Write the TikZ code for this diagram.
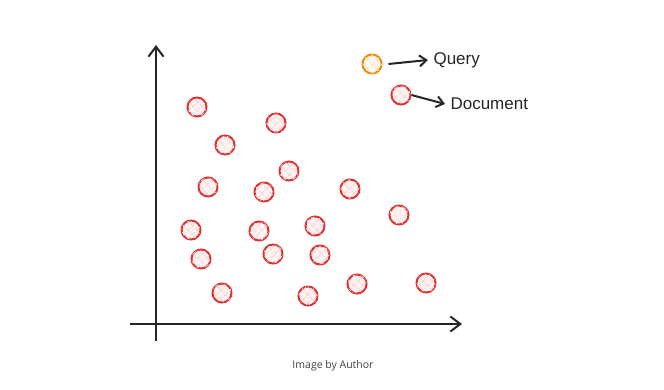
\documentclass[tikz,border=0pt]{standalone}
\usepackage{fontspec}
\setmainfont{Liberation Sans}
\newfontfamily\capfont{Open Sans}
\usetikzlibrary{arrows.meta, positioning, patterns.meta}

\definecolor{docred}{HTML}{E03131}
\definecolor{qryorange}{HTML}{F08C00}

\begin{document}
\begin{tikzpicture}[x=1pt, y=-1pt,
            pt/.style={circle, draw=#1, line width=2pt, minimum size=19pt, inner sep=0pt,
                fill=#1!6, postaction={pattern={Lines[angle=45, distance=6.5pt, line width=1pt]}, pattern color=#1!20},
                postaction={pattern={Lines[angle=-45, distance=6.5pt, line width=1pt]}, pattern color=#1!20}},
            axis/.style={line width=2pt, black!85, -{Straight Barb[length=10pt, width=15pt]}},
            leg/.style={line width=2pt, black!85, -{Straight Barb[length=7pt, width=11pt]}},
            lbl/.style={font=\fontsize{17}{19}\selectfont, black!85},
        ]
        \useasboundingbox (0,0) rectangle (664,390);
        % axes
        \coordinate (o1) at (156,341);
        \coordinate (ytop) at (156,45);
        \coordinate (o2) at (130,324);
        \coordinate (xend) at (462,324);
        \draw[axis] (o1) -- (ytop);
        \draw[axis] (o2) -- (xend);
        % documents in the space
        \foreach \x/\y [count=\i] in {197/107, 276/123, 225/145, 289/171, 208/187, 264/192,
                350/189, 399/215, 191/230, 259/231, 315/226, 201/259, 273/254, 320/255,
                357/284, 426/283, 222/293, 308/296}
            \node[pt=docred] (d\i) at (\x,\y) {};
        % legend
        \node[pt=qryorange] (qry) at (372,64) {};
        \node[pt=docred] (doc) at (401,95) {};
        \node[lbl, anchor=west] (qlbl) at (430,60) {Query};
        \node[lbl, anchor=west] (dlbl) at (447,104) {Document};
        \draw[leg] (qry.east) ++(6,0) -- ([xshift=-2pt]qlbl.west);
        \draw[leg] (doc.east) -- ([xshift=-2pt]dlbl.west);
        \node[font=\capfont\fontsize{10.5}{12}\selectfont, black!75] (cap) at (333,366) {Image by Author};
    \end{tikzpicture}
\end{document}
